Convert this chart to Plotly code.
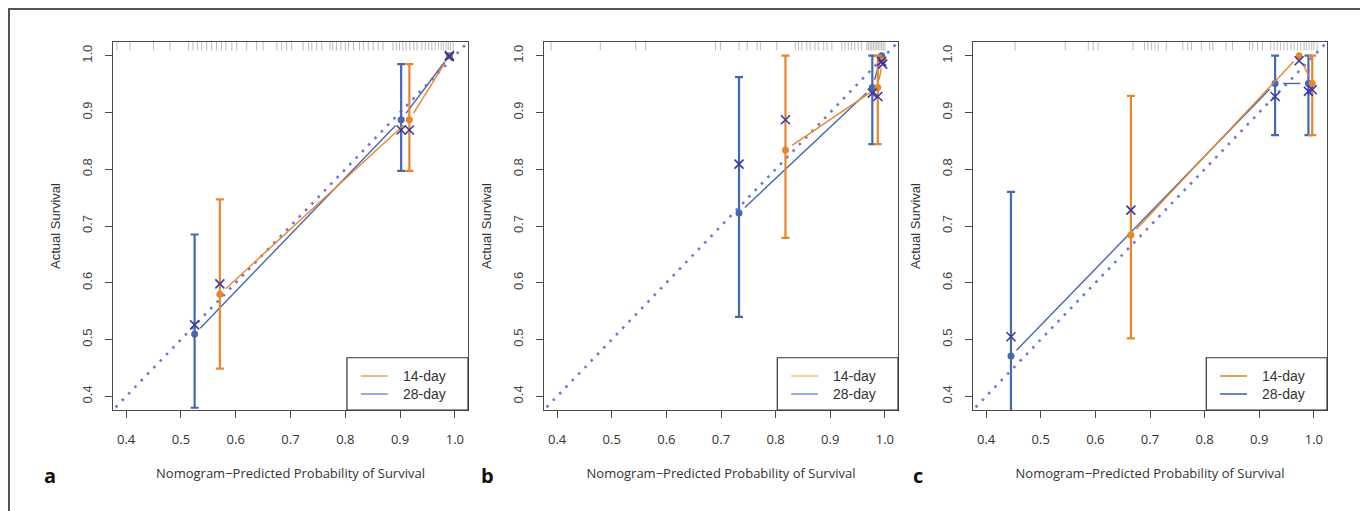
import math
import plotly.graph_objects as go

# ---------------- data ----------------
series_names = ["14-day", "28-day"]
tick_vals = [0.4, 0.5, 0.6, 0.7, 0.8, 0.9, 1.0]
panel_letters = ["a", "b", "c"]
ideal = [0.3, 1.1]

# panel a
a_orange_x = [0.571, 0.917, 0.990]
a_orange_obs = [0.580, 0.887, 1.000]
a_orange_corr = [0.598, 0.869, 1.000]
a_orange_lo = [0.449, 0.797, None]
a_orange_hi = [0.747, 0.985, None]
a_blue_x = [0.525, 0.902, 0.990]
a_blue_obs = [0.510, 0.887, 1.000]
a_blue_corr = [0.526, 0.869, 0.998]
a_blue_lo = [0.380, 0.797, None]
a_blue_hi = [0.685, 0.985, None]

# panel b
b_orange_x = [0.818, 0.987, 0.996]
b_orange_obs = [0.834, 0.944, 0.992]
b_orange_corr = [0.887, 0.928, 0.985]
b_orange_lo = [0.679, 0.844, None]
b_orange_hi = [1.000, 1.000, None]
b_blue_x = [0.733, 0.977, 0.994]
b_blue_obs = [0.723, 0.944, 1.000]
b_blue_corr = [0.809, 0.934, 0.990]
b_blue_lo = [0.540, 0.844, None]
b_blue_hi = [0.962, 1.000, None]

# panel c
c_orange_x = [0.665, 0.973, 0.997]
c_orange_obs = [0.684, 1.000, 0.951]
c_orange_corr = [0.728, 0.991, 0.940]
c_orange_lo = [0.502, None, 0.860]
c_orange_hi = [0.929, None, 1.000]
c_blue_x = [0.4455, 0.929, 0.990]
c_blue_obs = [0.471, 0.951, 0.951]
c_blue_corr = [0.505, 0.928, 0.937]
c_blue_lo = [0.180, 0.860, 0.860]
c_blue_hi = [0.760, 1.000, 1.000]

# rug of predicted probabilities (top of each panel)
a_rug = [0.383, 0.407, 0.450, 0.480, 0.514, 0.522, 0.530, 0.538, 0.547, 0.556,
         0.565, 0.574, 0.582, 0.593, 0.602, 0.620, 0.638, 0.650, 0.675, 0.684,
         0.693, 0.702, 0.723, 0.733, 0.739, 0.748, 0.757, 0.772, 0.777, 0.784,
         0.792, 0.800, 0.806, 0.815, 0.826, 0.833, 0.842, 0.851, 0.860, 0.869,
         0.887, 0.893, 0.899, 0.905, 0.911, 0.918, 0.925, 0.931, 0.940, 0.946,
         0.952, 0.958, 0.964, 0.970, 0.975, 0.979, 0.984, 0.988, 0.992, 0.997]
b_rug = [0.389, 0.479, 0.544, 0.562, 0.690, 0.699, 0.733, 0.748, 0.766, 0.772,
         0.802, 0.836, 0.842, 0.848, 0.857, 0.863, 0.872, 0.878, 0.888, 0.894,
         0.903, 0.921, 0.927, 0.933, 0.939, 0.945, 0.951, 0.957, 0.967, 0.970,
         0.973, 0.976, 0.979, 0.982, 0.985, 0.988, 0.991, 0.994, 0.997, 1.000]
c_rug = [0.453, 0.545, 0.587, 0.596, 0.605, 0.669, 0.690, 0.696, 0.703, 0.709,
         0.715, 0.730, 0.760, 0.769, 0.776, 0.794, 0.809, 0.815, 0.839, 0.851,
         0.882, 0.888, 0.897, 0.906, 0.921, 0.927, 0.933, 0.939, 0.945, 0.951,
         0.958, 0.964, 0.970, 0.976, 0.982, 0.986, 0.991, 0.996, 1.000, 1.006]

panels = [
    dict(orange=(a_orange_x, a_orange_obs, a_orange_corr, a_orange_lo, a_orange_hi),
         blue=(a_blue_x, a_blue_obs, a_blue_corr, a_blue_lo, a_blue_hi), rug=a_rug),
    dict(orange=(b_orange_x, b_orange_obs, b_orange_corr, b_orange_lo, b_orange_hi),
         blue=(b_blue_x, b_blue_obs, b_blue_corr, b_blue_lo, b_blue_hi), rug=b_rug),
    dict(orange=(c_orange_x, c_orange_obs, c_orange_corr, c_orange_lo, c_orange_hi),
         blue=(c_blue_x, c_blue_obs, c_blue_corr, c_blue_lo, c_blue_hi), rug=c_rug),
]

# ---------------- style / layout ----------------
OFF = 8  # page body margin
W, H = 1368 - OFF, 511 - OFF
AX_RANGE = [0.376, 1.024]
x_px = [(113, 468), (544, 898), (973, 1327)]
x_domains = [[(a - OFF) / W, (b - OFF) / W] for a, b in x_px]
y_domain = [1 - (410 - OFF) / H, 1 - (42 - OFF) / H]
ORANGE = "#E8862A"
BLUE = "#4568B2"
XCOL = "#3838A8"
DIAG = "#7474D6"
legend_cols = [("#EDA868", "#7E96D2"), ("#F0C48C", "#7F9AD4"), ("#E8862A", "#4568B2")]
letter_x = [50, 487, 918]

PX_X = (x_domains[0][1] - x_domains[0][0]) * W / (AX_RANGE[1] - AX_RANGE[0])
PX_Y = (y_domain[1] - y_domain[0]) * H / (AX_RANGE[1] - AX_RANGE[0])
RUG_Y = AX_RANGE[1] - 3.5 / PX_Y


def gapped(xs, ys, gap=8.0):
    ox, oy = [], []
    for i in range(len(xs) - 1):
        dx, dy = xs[i + 1] - xs[i], ys[i + 1] - ys[i]
        L = math.hypot(dx * PX_X, dy * PX_Y)
        if L <= 2 * gap:
            continue
        f = gap / L
        ox += [xs[i] + f * dx, xs[i + 1] - f * dx, None]
        oy += [ys[i] + f * dy, ys[i + 1] - f * dy, None]
    return ox, oy


fig = go.Figure()
shapes, annotations = [], []

for k, p in enumerate(panels):
    xa = "x" if k == 0 else f"x{k+1}"
    ya = "y" if k == 0 else f"y{k+1}"
    ax_kw = dict(xaxis=xa, yaxis=ya, showlegend=False, hoverinfo="skip")

    # ideal diagonal
    fig.add_trace(go.Scatter(x=ideal, y=ideal, mode="lines",
                             line=dict(color=DIAG, width=2.6, dash="2.6px,6.5px"), **ax_kw))
    # rug
    fig.add_trace(go.Scatter(x=p["rug"], y=[RUG_Y] * len(p["rug"]), mode="markers",
                             marker=dict(symbol="line-ns", size=7,
                                         line=dict(color="rgba(90,90,90,0.4)", width=1)),
                             **ax_kw))
    for key, col in (("blue", BLUE), ("orange", ORANGE)):
        xs, obs, corr, lo, hi = p[key]
        gx, gy = gapped(xs, obs)
        fig.add_trace(go.Scatter(x=gx, y=gy, mode="lines",
                                 line=dict(color=col, width=1.4), **ax_kw))
        idx = [i for i in range(len(xs)) if lo[i] is not None]
        fig.add_trace(go.Scatter(
            x=[xs[i] for i in idx], y=[obs[i] for i in idx], mode="markers",
            marker=dict(size=0.1, color=col),
            error_y=dict(type="data", symmetric=False,
                         array=[hi[i] - obs[i] for i in idx],
                         arrayminus=[obs[i] - lo[i] for i in idx],
                         color=col, thickness=2.2, width=4),
            **ax_kw))
        fig.add_trace(go.Scatter(x=xs, y=obs, mode="markers",
                                 marker=dict(size=7, color=col), **ax_kw))
    for key in ("blue", "orange"):
        xs, obs, corr, lo, hi = p[key]
        fig.add_trace(go.Scatter(x=xs, y=corr, mode="markers",
                                 marker=dict(symbol="x-thin", size=9,
                                             line=dict(color=XCOL, width=1.6)),
                                 **ax_kw))

    axis_common = dict(range=AX_RANGE, tickvals=tick_vals, tickformat=".1f",
                       showline=True, mirror=True, linecolor="#4a4a4a", linewidth=1.3,
                       ticks="outside", ticklen=7, tickwidth=1.3, tickcolor="#4a4a4a",
                       showgrid=False, zeroline=False)
    fig.update_layout({
        ("xaxis" if k == 0 else f"xaxis{k+1}"): dict(
            axis_common, domain=x_domains[k], anchor=ya, ticklabelstandoff=10,
            tickfont=dict(family="Open Sans", size=13, color="#333"),
            title=dict(text="Nomogram\u2212Predicted Probability of Survival",
                       font=dict(family="Open Sans", size=13, color="#333"), standoff=22)),
        ("yaxis" if k == 0 else f"yaxis{k+1}"): dict(
            axis_common, domain=y_domain, anchor=xa, tickangle=-90, ticklabelstandoff=8,
            tickfont=dict(family="Liberation Sans", size=13, color="#444"),
            title=dict(text="Actual Survival",
                       font=dict(family="Liberation Sans", size=13, color="#333"), standoff=16)),
    })

    # legend box (inside bottom-right of each panel)
    xd = xa + " domain"
    yd = ya + " domain"
    shapes.append(dict(type="rect", xref=xd, yref=yd, x0=0.659, x1=1.0, y0=0.0, y1=0.142,
                       line=dict(color="#333", width=1.2), fillcolor="white", layer="above"))
    for j, (name, yy) in enumerate(zip(series_names, [0.0924, 0.0435])):
        shapes.append(dict(type="line", xref=xd, yref=yd, x0=0.698, x1=0.774, y0=yy, y1=yy,
                           line=dict(color=legend_cols[k][j], width=1.6), layer="above"))
        annotations.append(dict(xref=xd, yref=yd, x=0.812, y=yy, text=name, showarrow=False,
                                xanchor="left", yanchor="middle",
                                font=dict(family="Liberation Sans", size=14, color="#333")))
    annotations.append(dict(xref="paper", yref="paper", x=(letter_x[k] - OFF) / W,
                            y=1 - (475 - OFF) / H,
                            text=f"<b>{panel_letters[k]}</b>", showarrow=False,
                            xanchor="center", yanchor="middle",
                            font=dict(family="Open Sans", size=20, color="#111")))

# outer figure frame (left, top, right edges visible)
shapes.append(dict(type="rect", xref="paper", yref="paper", x0=1 / W, x1=(1364 - OFF) / W,
                   y0=-0.2, y1=1 - 1 / H, line=dict(color="#555", width=2)))

fig.update_layout(width=W, height=H, margin=dict(l=0, r=0, t=0, b=0),
                  paper_bgcolor="white", plot_bgcolor="white", showlegend=False,
                  shapes=shapes, annotations=annotations)

fig.write_html("out.html")
